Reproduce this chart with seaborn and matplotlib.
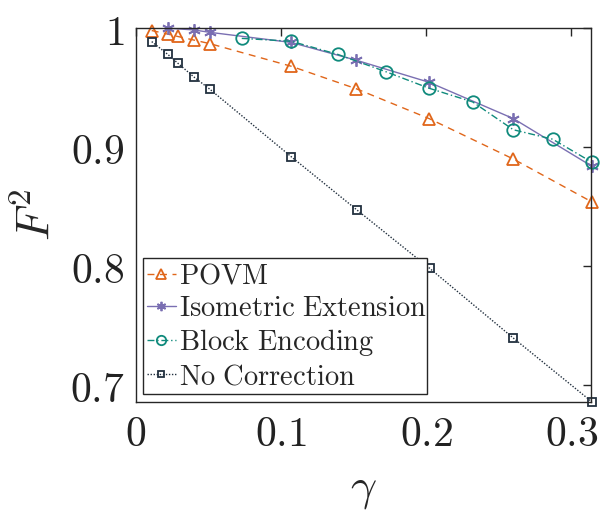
import matplotlib
matplotlib.use("Agg")
import matplotlib.pyplot as plt
import seaborn as sns
import numpy as np

# ---- data ----
povm_x = [0.011, 0.022, 0.029, 0.040, 0.051, 0.107, 0.152, 0.202, 0.260, 0.314]
povm_y = [0.998, 0.995, 0.993, 0.990, 0.987, 0.968, 0.949, 0.924, 0.890, 0.854]

iso_x = [0.022, 0.040, 0.051, 0.107, 0.152, 0.202, 0.260, 0.314]
iso_y = [1.000, 0.9985, 0.9965, 0.988, 0.973, 0.9545, 0.924, 0.884]

blk_x = [0.073, 0.107, 0.139, 0.172, 0.202, 0.232, 0.260, 0.287, 0.314]
blk_y = [0.9914, 0.989, 0.978, 0.9635, 0.9495, 0.938, 0.9146, 0.9067, 0.8874]

noc_x = [0.011, 0.022, 0.029, 0.040, 0.051, 0.107, 0.1525, 0.2025, 0.260, 0.314]
noc_y = [0.9887, 0.978, 0.9705, 0.959, 0.9487, 0.892, 0.847, 0.798, 0.7395, 0.686]

labels = ["POVM", "Isometric Extension", "Block Encoding", "No Correction"]
xticks = [0, 0.1, 0.2, 0.3]
xticklabels = ["0", "0.1", "0.2", "0.3"]
yticks = [0.7, 0.8, 0.9, 1.0]
yticklabels = ["0.7", "0.8", "0.9", "1"]

sns.set_theme(style="white")
plt.rcParams["mathtext.fontset"] = "cm"
plt.rcParams["font.family"] = ["DejaVu Serif"]

fig = plt.figure(figsize=(6.06, 5.12), dpi=100)
ax = fig.add_axes([0.224, 0.2154, 0.752, 0.7296])

series = [
    (povm_x, povm_y, "#e0661a", (0, (5, 4)), "^", 9),
    (iso_x, iso_y, "#7a6fb2", "-", (6, 2, 0), 9),
    (blk_x, blk_y, "#0f8a7c", (0, (5, 2, 1, 2)), "o", 9),
    (noc_x, noc_y, "#22303f", (0, (1, 1.2)), "s", 6),
]
for (xs, ys, c, ls, mk, ms), lab in zip(series, labels):
    sns.lineplot(x=xs, y=ys, ax=ax, color=c, linestyle=ls, linewidth=1.0,
                 marker=mk, markersize=ms, markerfacecolor="none",
                 markeredgecolor=c, markeredgewidth=1.3, estimator=None,
                 sort=False, clip_on=False,
                 label=r"$\mathrm{" + lab.replace(" ", r"\ ") + "}$")

ax.set_xlim(0, 0.3138)
ax.set_ylim(0.686, 1.0)
ax.set_xticks(xticks)
ax.set_xticklabels([r"$" + t + "$" for t in xticklabels])
ax.set_yticks(yticks)
ax.set_yticklabels([r"$" + t + "$" for t in yticklabels])
ax.tick_params(axis="both", which="both", direction="in", length=6, width=1,
               color="#262626", labelsize=30, top=True, right=True,
               labelcolor="#222222")
ax.tick_params(axis="x", pad=8)
ax.tick_params(axis="y", pad=8)
for s in ax.spines.values():
    s.set_visible(True)
    s.set_color("#262626")
    s.set_linewidth(1.0)
    s.set_zorder(5)

ax.set_xlabel(r"$\gamma$", fontsize=33, labelpad=8)
ax.set_ylabel(r"$F^2$", fontsize=34, labelpad=8)

leg = ax.legend(loc="lower left", bbox_to_anchor=(0.0154, 0.0198, 0.624, 0.375),
                mode="expand", fontsize=20.5, handlelength=1.0, handletextpad=0.12,
                borderpad=0.15, labelspacing=0.18, borderaxespad=0,
                fancybox=False, frameon=True, markerscale=0.75)
leg.get_frame().set_edgecolor("#262626")
leg.get_frame().set_linewidth(1.0)
leg.get_frame().set_alpha(1)
leg.set_zorder(10)

fig.savefig("out.png", dpi=100)
